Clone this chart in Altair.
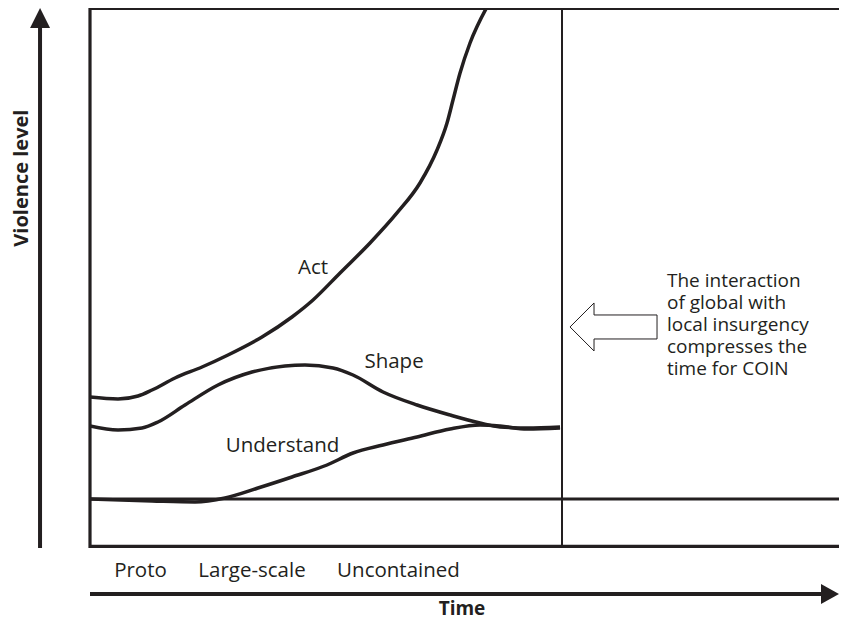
import altair as alt
import pandas as pd

# ---- curve data (time across the frame, violence level 0-100 up the frame)
act_t = [0, 3.70, 6.34, 8.19, 11.23, 14.80, 18.23, 22.72, 26.68, 29.46, 33.03, 36.99,
         40.55, 43.59, 45.84, 47.16, 47.95, 48.88, 50.20, 52.44]
act_v = [27.96, 27.59, 28.15, 29.26, 31.48, 33.52, 35.74, 39.07, 42.78, 45.93, 50.93, 56.48,
         62.04, 67.59, 73.70, 78.70, 82.96, 87.96, 93.52, 100.19]

shape_t = [0, 3.70, 6.87, 8.98, 12.55, 16.91, 21.40, 25.76, 28.40, 32.10, 34.74, 38.71,
           43.20, 47.56, 51.52, 54.16, 57.73, 62.09]
shape_v = [22.59, 21.85, 22.22, 23.33, 26.48, 30.19, 32.59, 33.70, 33.89, 33.33, 32.04, 28.89,
           26.48, 24.63, 23.15, 22.41, 22.22, 22.41]

und_t = [0, 8.19, 13.87, 17.83, 22.19, 26.68, 31.31, 34.74, 38.71, 43.20, 47.56, 51.52,
         54.16, 57.73, 62.09]
und_v = [9.07, 8.70, 8.52, 9.26, 11.11, 13.15, 15.37, 17.59, 19.07, 20.56, 22.04, 22.78,
         22.59, 22.04, 22.22]

curve_labels = ["Act", "Shape", "Understand"]
curve_label_t = [29.46, 40.16, 25.43]
curve_label_v = [51.85, 34.44, 18.89]

phase_labels = ["Proto", "Large-scale", "Uncontained"]
phase_t = [6.67, 21.40, 40.75]
phase_v = -4.26

note_lines = ["The interaction", "of global with", "local insurgency",
              "compresses the", "time for COIN"]
note_t = 76.22
note_v = 49.44         # first line
arrow_t = 63.41
arrow_v = 40.93

divider_t = 62.35      # vertical line
floor_v = 9.07         # horizontal baseline

X_MAX = 98.94          # right edge of the picture

# axis arrows and titles (outside the frame, same units)
y_arrow_t = -6.6
x_arrow_v = -8.52
y_title_pos = (-8.98, 68.5)
x_title_pos = (49.14, -11.30)

INK = "#231f20"
FONT = "Open Sans"

W, H = 749, 540

rows = []
for name, ts, vs in [("Act", act_t, act_v), ("Shape", shape_t, shape_v),
                     ("Understand", und_t, und_v)]:
    for t, v in zip(ts, vs):
        rows.append({"series": name, "t": t, "v": v})
curves_df = pd.DataFrame(rows)

xs = alt.Scale(domain=[0, X_MAX], nice=False, zero=False)
ys = alt.Scale(domain=[0, 100], nice=False, zero=False)


def X(f):
    return alt.X(f, type="quantitative", scale=xs, axis=None)


def Y(f):
    return alt.Y(f, type="quantitative", scale=ys, axis=None)


curves = alt.Chart(curves_df).mark_line(
    interpolate="monotone", strokeWidth=3.5, color=INK, clip=True
).encode(x=X("t"), y=Y("v"), detail="series:N")

thick_df = pd.DataFrame([
    {"x": 0, "x2": 0, "y": 0, "y2": 100},                # left border
    {"x": 0, "x2": X_MAX, "y": 0.3, "y2": 0.3},          # bottom border
    {"x": 0, "x2": X_MAX, "y": floor_v, "y2": floor_v},
])
thin_df = pd.DataFrame([
    {"x": 0, "x2": X_MAX, "y": 99.8, "y2": 99.8},        # top border
    {"x": divider_t, "x2": divider_t, "y": 0, "y2": 100},
])
frame_thick = alt.Chart(thick_df).mark_rule(color=INK, strokeWidth=3.2).encode(
    x=X("x"), x2="x2:Q", y=Y("y"), y2="y2:Q")
frame_thin = alt.Chart(thin_df).mark_rule(color=INK, strokeWidth=2).encode(
    x=X("x"), x2="x2:Q", y=Y("y"), y2="y2:Q")

lab_df = pd.DataFrame({"label": curve_labels, "t": curve_label_t, "v": curve_label_v})
curve_text = alt.Chart(lab_df).mark_text(
    font=FONT, fontSize=20.5, color=INK, align="center", baseline="middle"
).encode(x=X("t"), y=Y("v"), text="label:N")

phase_df = pd.DataFrame({"label": phase_labels, "t": phase_t, "v": [phase_v] * 3})
phase_text = alt.Chart(phase_df).mark_text(
    font=FONT, fontSize=20.5, color=INK, align="center", baseline="middle"
).encode(x=X("t"), y=Y("v"), text="label:N")

note_df = pd.DataFrame({"note": ["\n".join(note_lines)], "t": [note_t], "v": [note_v]})
note_text = alt.Chart(note_df).mark_text(
    font=FONT, fontSize=19, color=INK, align="left", baseline="middle",
    lineBreak="\n", lineHeight=22
).encode(x=X("t"), y=Y("v"), text="note:N")

block_arrow = alt.Chart(pd.DataFrame({"t": [arrow_t], "v": [arrow_v]})).mark_point(
    shape="M0,0L24,-24L24,-12L87,-12L87,12L24,12L24,24Z",
    size=4, filled=True, fill="white", stroke=INK, strokeWidth=1, opacity=1
).encode(x=X("t"), y=Y("v"))

y_shaft = alt.Chart(pd.DataFrame({"t": [y_arrow_t], "v": [0], "v2": [97.4]})).mark_rule(
    color=INK, strokeWidth=4).encode(x=X("t"), y=Y("v"), y2="v2:Q")
y_head = alt.Chart(pd.DataFrame({"t": [y_arrow_t], "v": [100]})).mark_point(
    shape="M0,0L10,20L-10,20Z", size=4, filled=True, color=INK, opacity=1
).encode(x=X("t"), y=Y("v"))

x_shaft = alt.Chart(pd.DataFrame({"t": [0], "t2": [X_MAX - 2.2], "v": [x_arrow_v]})).mark_rule(
    color=INK, strokeWidth=4).encode(x=X("t"), x2="t2:Q", y=Y("v"))
x_head = alt.Chart(pd.DataFrame({"t": [X_MAX], "v": [x_arrow_v]})).mark_point(
    shape="M0,0L-18,-10L-18,10Z", size=4, filled=True, color=INK, opacity=1
).encode(x=X("t"), y=Y("v"))

titles_df = pd.DataFrame({
    "label": ["Violence level", "Time"],
    "t": [y_title_pos[0], x_title_pos[0]],
    "v": [y_title_pos[1], x_title_pos[1]],
})
y_title = alt.Chart(titles_df.iloc[[0]]).mark_text(
    font=FONT, fontSize=20, fontWeight="bold", color=INK,
    angle=270, align="center", baseline="middle"
).encode(x=X("t"), y=Y("v"), text="label:N")
x_title = alt.Chart(titles_df.iloc[[1]]).mark_text(
    font=FONT, fontSize=19, fontWeight="bold", color=INK,
    align="center", baseline="middle"
).encode(x=X("t"), y=Y("v"), text="label:N")

chart = alt.layer(
    frame_thick, frame_thin, curves, curve_text, phase_text, note_text, block_arrow,
    y_shaft, y_head, x_shaft, x_head, y_title, x_title
).properties(
    width=W, height=H,
    autosize=alt.AutoSizeParams(type="none"),
    padding={"left": 82, "top": 0, "right": 0, "bottom": 72},
    background="white",
).configure_view(stroke=None)

chart.save("out.html", embed_options={"renderer": "svg", "actions": False})
